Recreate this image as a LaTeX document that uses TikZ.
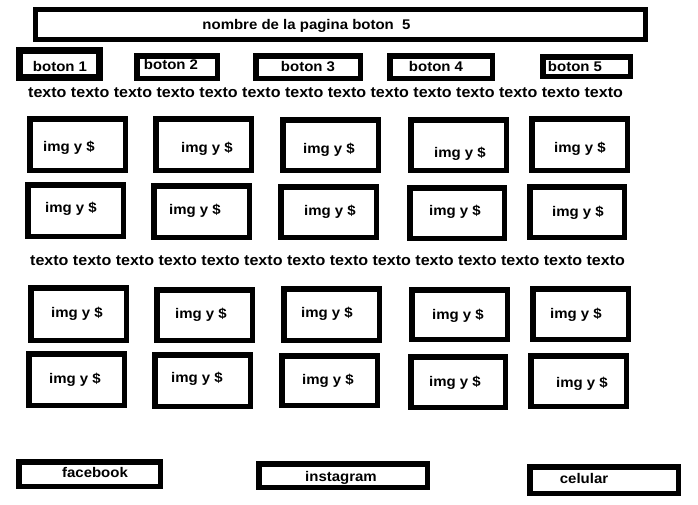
\documentclass[tikz,border=0pt]{standalone}
\usepackage{fontspec}
\setmainfont{Liberation Sans}[FakeStretch=1.07]
\newcommand\pbox[6]{% name, L, T, R, B, line width
  \node[pframe, line width=#6pt, minimum width={(#4-#2-#6)*1pt}, minimum height={(#5-#3-#6)*1pt}] (#1) at ({(#2+#4)/2},{(#3+#5)/2}) {};}
\begin{document}
\begin{tikzpicture}[x=1pt,y=-1pt,
  pframe/.style={draw=black, inner sep=0pt, outer sep=0pt},
  lbl/.style={anchor=base, inner sep=0pt, font=\fontsize{14}{16}\selectfont\bfseries},
  txt/.style={anchor=base west, inner sep=0pt, font=\fontsize{15}{17}\selectfont\bfseries}]
\useasboundingbox[fill=white] (0,0) rectangle (698,504);
% title
\pbox{title}{33}{7}{648}{42}{5}
\node[lbl] (ttitle) at (306.5,29.8) {nombre de la pagina boton~~5};
% buttons
\pbox{b1}{16}{47}{103}{81}{7}
\node[lbl] (tb1) at (60,71) {boton 1};
\pbox{b2}{134}{53}{220}{81}{5.5}
\node[lbl] (tb2) at (171,69) {boton 2};
\pbox{b3}{253}{53}{363}{81}{5.5}
\node[lbl] (tb3) at (308,71.5) {boton 3};
\pbox{b4}{387}{53}{495}{81}{5.5}
\node[lbl] (tb4) at (436,71.5) {boton 4};
\pbox{b5}{540}{54}{633}{79}{5.5}
\node[lbl] (tb5) at (575,71.5) {boton 5};
% text lines
\node[txt] (line1) at (28,97) {texto texto texto texto texto texto texto texto texto texto texto texto texto texto};
\node[txt] (line2) at (30,265) {texto texto texto texto texto texto texto texto texto texto texto texto texto texto};
% product boxes
\pbox{a1}{27}{116}{128}{173}{5.5}  \node[lbl] (ta1) at (69,151) {img y \$};
\pbox{a2}{153}{116}{254}{173}{5.5} \node[lbl] (ta2) at (207,152) {img y \$};
\pbox{a3}{280}{117}{381}{173}{5.5} \node[lbl] (ta3) at (329,153) {img y \$};
\pbox{a4}{408}{117}{509}{173}{5.5} \node[lbl] (ta4) at (460,157) {img y \$};
\pbox{a5}{529}{116}{630}{173}{5.5} \node[lbl] (ta5) at (580,152) {img y \$};
\pbox{c1b}{25}{182}{126}{239}{5.5}  \node[lbl] (tc1b) at (71,212) {img y \$};
\pbox{c2b}{151}{183}{252}{240}{5.5} \node[lbl] (tc2b) at (195,214) {img y \$};
\pbox{c3b}{278}{184}{379}{240}{5.5} \node[lbl] (tc3b) at (330,215) {img y \$};
\pbox{c4b}{407}{185}{507}{241}{5.5} \node[lbl] (tc4b) at (455,215) {img y \$};
\pbox{c5b}{527}{184}{627}{240}{5.5} \node[lbl] (tc5b) at (578,216) {img y \$};
\pbox{r1}{28}{285}{129}{343}{5.5}  \node[lbl] (tr1) at (77,317) {img y \$};
\pbox{r2}{154}{287}{255}{343}{5.5} \node[lbl] (tr2) at (201,318) {img y \$};
\pbox{r3}{281}{286}{382}{343}{5.5} \node[lbl] (tr3) at (327,317) {img y \$};
\pbox{r4}{409}{287}{510}{342}{5.5} \node[lbl] (tr4) at (458,319) {img y \$};
\pbox{r5}{530}{286}{631}{342}{5.5} \node[lbl] (tr5) at (576,318) {img y \$};
\pbox{d1}{26}{351}{127}{408}{5.5}  \node[lbl] (td1) at (75,383) {img y \$};
\pbox{d2}{152}{352}{253}{409}{5.5} \node[lbl] (td2) at (197,382) {img y \$};
\pbox{d3}{279}{353}{380}{408}{5.5} \node[lbl] (td3) at (328,384) {img y \$};
\pbox{d4}{408}{354}{508}{410}{5.5} \node[lbl] (td4) at (455,386) {img y \$};
\pbox{d5}{528}{353}{629}{409}{5.5} \node[lbl] (td5) at (582,387) {img y \$};
% footer
\pbox{fb}{16}{459}{163}{489}{5.5}
\node[lbl] (tfb) at (95,477) {facebook};
\pbox{ig}{256}{461}{430}{490}{5.5}
\node[lbl] (tig) at (341,481) {instagram};
\pbox{cel}{527}{464}{681}{496}{5.5}
\node[lbl] (tcel) at (584,483) {celular};
\end{tikzpicture}
\end{document}
